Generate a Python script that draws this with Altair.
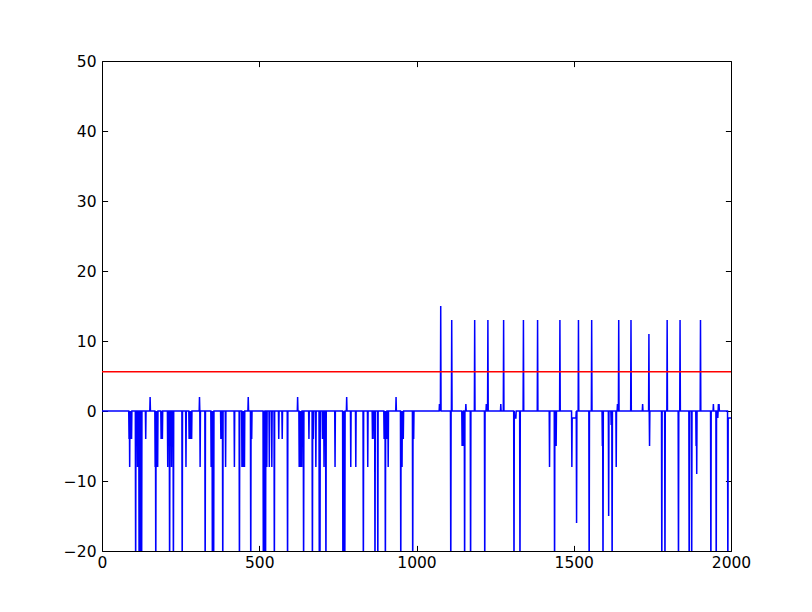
import altair as alt
import pandas as pd

# axis ticks
x_ticks = [0, 500, 1000, 1500, 2000]
y_ticks = [-20, -10, 0, 10, 20, 30, 40, 50]

# series: sample index -> value (all other samples are 0)
spike_x = [
    86, 88, 90, 92, 94, 107, 113, 118, 121, 126, 139, 153,
    169, 171, 173, 175, 177, 188, 190, 192, 209, 215, 221, 227, 255, 267,
    277, 279, 281, 283, 285, 310, 312, 328,
    347, 349, 351, 353, 355, 378, 380, 384, 393, 421, 437,
    445, 447, 449, 451, 453, 465, 473, 476, 513, 515, 517, 520, 524, 532,
    540, 548, 562, 573, 590, 622, 627, 629, 631, 633, 635, 641, 658, 669,
    672, 680, 691, 693, 701, 703, 706, 712, 741, 766, 768, 770, 772, 778,
    791, 807, 831, 845, 860, 862, 868, 877, 897, 899, 901, 903, 905, 910,
    935, 950, 952, 954, 956, 958, 988, 991,
    1073, 1075, 1077, 1109, 1112, 1145, 1147, 1149, 1153, 1157, 1172, 1185,
    1217, 1222, 1224, 1227, 1268, 1277, 1310, 1312, 1313, 1314, 1315, 1316,
    1329, 1340, 1385, 1423, 1439, 1442, 1444, 1456,
    1494, 1495, 1496, 1497, 1498, 1499, 1500, 1501, 1502, 1503, 1504, 1505,
    1506, 1507, 1509, 1515,
    1549, 1557, 1591, 1593, 1611, 1619, 1622, 1635, 1639, 1643, 1682, 1719,
    1739, 1741, 1780, 1790, 1797, 1833, 1838, 1867, 1875, 1889, 1891, 1903,
    1936, 1944, 1953, 1956, 1958, 1960, 1962, 1990,
    1991, 1992, 1993, 1994, 1995, 1996, 1997, 1998, 1999, 2000,
]
spike_y = [
    -4, -8, -4, -4, -4, -25, -8, -25, -25, -25, -4, 2,
    -8, -25, -8, -8, -8, -4, -4, -4, -8, -25, -8, -25, -25, -8,
    -4, -4, -4, -4, -4, 2, -8, -25,
    -8, -8, -25, -8, -25, -4, -4, -25, -8, -8, -25,
    -8, -8, -8, -8, -8, 2, -25, -4, -25, -8, -25, -25, -8, -8,
    -8, -25, -4, -4, -25, 2, -8, -8, -8, -8, -8, -25, -4, -25,
    -4, -8, -25, -25, -4, -4, -8, -25, -8, -25, -25, -4, -25, 2,
    -8, -8, -25, -8, -4, -4, -25, -25, -4, -4, -25, -4, -4, -8,
    2, -25, -4, -8, -4, -4, -25, -4,
    1, 1, 15, -25, 13, -5, -5, -5, -25, 1, -25, 13,
    -25, 1, 1, 13, 1, 13, -25, -1, -1, -1, -1, -1,
    -25, 13, 13, -8, -25, -5, -5, 13,
    -8, -1, -1, -1, -1, -1, -1, -1, -1, -1, -1, -1,
    -1, -1, -16, 13,
    -25, 13, -5, -25, -15, -2, -25, -8, 1, 13, 13, 1,
    11, -5, -25, -25, 13, -25, 13, -25, -25, -5, -9, 13,
    -25, 1, -25, -1, -1, 1, 1, -25,
    -1, -1, -1, -1, -1, -1, -1, -1, -1, -1,
]
n_samples = 2001
threshold = [5.6]

vals = [0.0] * n_samples
for sx, sy in zip(spike_x, spike_y):
    vals[sx] = sy

series = pd.DataFrame({"x": list(range(n_samples)), "y": vals})
rule_df = pd.DataFrame({"x0": [x_ticks[0]], "x1": [x_ticks[-1]], "level": threshold})

FONT = "DejaVu Sans"
FS = 15.5
TICK = 5.6

xscale = alt.Scale(domain=[x_ticks[0], x_ticks[-1]], nice=False, zero=False)
yscale = alt.Scale(domain=[y_ticks[0], y_ticks[-1]], nice=False, zero=False)


def axis(orient, values, labels=True, pad=3):
    return alt.Axis(
        orient=orient, values=values, offset=-TICK, tickSize=TICK,
        domain=False, grid=False, labels=labels, labelFont=FONT,
        labelFontSize=FS, labelColor="black", tickColor="black",
        tickWidth=1, labelPadding=pad, title=None, labelFlush=False,
        labelOverlap=False, format="d",
    )


line = alt.Chart(series).mark_line(color="#0000ff", strokeWidth=1.5, clip=True).encode(
    x=alt.X("x:Q", scale=xscale, axis=axis("bottom", x_ticks, pad=4)),
    y=alt.Y("y:Q", scale=yscale, axis=axis("left", y_ticks, pad=6)),
)

rule = alt.Chart(rule_df).mark_rule(color="#ff0000", strokeWidth=1.5).encode(
    x=alt.X("x0:Q", scale=xscale, axis=axis("top", x_ticks, labels=False)),
    x2="x1:Q",
    y=alt.Y("level:Q", scale=yscale, axis=axis("right", y_ticks, labels=False)),
)

chart = (
    alt.layer(line, rule)
    .resolve_axis(x="independent", y="independent")
    .properties(
        width=629, height=490,
        autosize=alt.AutoSizeParams(type="none"),
        padding={"left": 94, "top": 53, "right": 73, "bottom": 61},
        background="white",
    )
    .configure_view(stroke="black", strokeWidth=1)
)

chart.save("out.html", embed_options={"renderer": "svg", "actions": False})
